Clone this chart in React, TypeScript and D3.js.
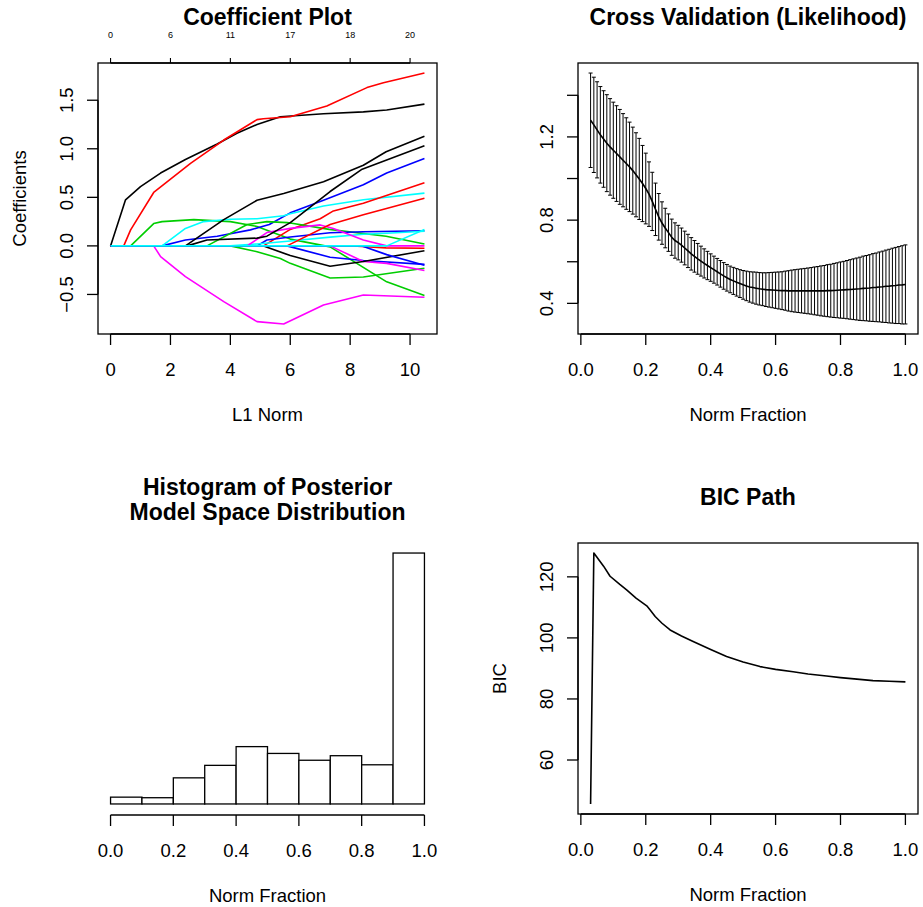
import React from 'react';
import * as d3 from 'd3';

// ---- coefficient paths (lasso), [L1 norm, coefficient] at the knots ----
const coefPaths: [number, number][][] = [
  [[0, 0], [0.5, 0.474], [1.0, 0.61], [1.67, 0.75], [2.5, 0.89], [3.56, 1.05], [4.22, 1.16], [4.89, 1.25], [5.67, 1.33], [7.11, 1.36], [8.44, 1.38], [9.22, 1.4], [10.48, 1.46]],
  [[0, 0], [0.44, 0], [0.67, 0.165], [1.44, 0.55], [2.67, 0.85], [3.78, 1.09], [4.89, 1.3], [5.1, 1.31], [6, 1.33], [7.22, 1.44], [8.56, 1.63], [9.11, 1.68], [10.48, 1.78]],
  [[0, 0], [0.67, 0], [1.44, 0.23], [1.72, 0.25], [2.78, 0.27], [4.0, 0.25], [4.89, 0.2], [6.0, 0.07], [7.33, -0.01], [9.22, -0.37], [10.48, -0.51]],
  [[0, 0], [1.72, 0], [2.5, 0.06], [3.56, 0.1], [4.67, 0.165], [5.3, 0.22], [6, 0.34], [7.11, 0.47], [8.44, 0.63], [9.22, 0.75], [10.48, 0.9]],
  [[0, 0], [1.72, 0], [2.5, 0.18], [3.11, 0.25], [4.0, 0.275], [4.89, 0.28], [5.78, 0.31], [6, 0.33], [7.11, 0.41], [8.44, 0.475], [10.48, 0.543]],
  [[0, 0], [1.44, 0], [1.67, -0.11], [2.5, -0.316], [3.78, -0.574], [4.89, -0.78], [5.78, -0.804], [7.11, -0.608], [8.44, -0.505], [10.48, -0.529]],
  [[0, 0], [2.5, 0], [3.78, 0.27], [4.89, 0.47], [5.78, 0.54], [7.11, 0.66], [8.44, 0.83], [9.2, 0.97], [10.48, 1.13]],
  [[0, 0], [5.11, 0], [6, 0.17], [7.0, 0.28], [7.44, 0.36], [8.44, 0.44], [10.48, 0.65]],
  [[0, 0], [3.22, 0], [4.56, 0.22], [5.22, 0.25], [5.9, 0.24], [7.3, 0.17], [9.2, 0.1], [10.48, 0.02]],
  [[0, 0], [4.89, 0], [5.22, 0.06], [6, 0.092], [7.33, 0.135], [8.44, 0.146], [10.48, 0.155]],
  [[0, 0], [4.0, 0], [4.89, 0.02], [6.0, 0.05], [7.33, 0.09], [8.44, 0.12], [9.22, 0.13], [10.48, 0.15]],
  [[0, 0], [4.56, 0], [5.22, 0.137], [6, 0.18], [7.0, 0.216], [7.44, 0.18], [8.44, 0.06], [9.22, 0], [10.48, 0]],
  [[0, 0], [2.56, 0], [3.22, 0.06], [4.89, 0.08], [5.22, 0.1], [6, 0.24], [7.33, 0.56], [8.4, 0.79], [10.48, 1.03]],
  [[0, 0], [5.89, 0], [7.33, 0.22], [8.44, 0.32], [10.48, 0.49]],
  [[0, 0], [4.0, 0], [4.89, -0.06], [5.67, -0.13], [6.0, -0.18], [7.33, -0.33], [8.44, -0.32], [10.48, -0.23]],
  [[0, 0], [5.89, 0], [7.33, -0.117], [8.44, -0.15], [10.48, -0.19]],
  [[0, 0], [7.33, 0], [8.44, -0.16], [9.22, -0.18], [10.48, -0.254]],
  [[0, 0], [5.11, 0], [6, -0.1], [7.33, -0.21], [8.44, -0.16], [10.48, -0.05]],
  [[0, 0], [8.1, 0], [9.2, -0.02], [10.48, -0.025]],
  [[0, 0], [8.4, 0], [9.22, -0.09], [10.48, -0.2]],
  [[0, 0], [9.22, 0], [10.48, 0.168]],
];
const coefColors = [
  '#000000', '#FF0000', '#00CD00', '#0000FF', '#00FFFF', '#FF00FF',
  '#000000', '#FF0000', '#00CD00', '#0000FF', '#00FFFF', '#FF00FF',
  '#000000', '#FF0000', '#00CD00', '#0000FF', '#FF00FF',
  '#000000', '#FF0000', '#0000FF', '#00FFFF',
];
const coefXTicks = [0, 2, 4, 6, 8, 10];
const coefTopLabels = ['0', '6', '11', '17', '18', '20'];
const coefYTicks = [-0.5, 0, 0.5, 1, 1.5];

// ---- cross validation ----
const cvFraction = [
  0.03, 0.04, 0.05, 0.06, 0.07, 0.08, 0.09, 0.1, 0.11, 0.12, 0.13, 0.14, 0.15, 0.16, 0.17, 0.18, 0.19, 0.2,
  0.21, 0.22, 0.23, 0.24, 0.25, 0.26, 0.27, 0.28, 0.29, 0.3, 0.31, 0.32, 0.33, 0.34, 0.35, 0.36, 0.37, 0.38,
  0.39, 0.4, 0.41, 0.42, 0.43, 0.44, 0.45, 0.46, 0.47, 0.48, 0.49, 0.5, 0.51, 0.52, 0.53, 0.54, 0.55, 0.56,
  0.57, 0.58, 0.59, 0.6, 0.61, 0.62, 0.63, 0.64, 0.65, 0.66, 0.67, 0.68, 0.69, 0.7, 0.71, 0.72, 0.73, 0.74,
  0.75, 0.76, 0.77, 0.78, 0.79, 0.8, 0.81, 0.82, 0.83, 0.84, 0.85, 0.86, 0.87, 0.88, 0.89, 0.9, 0.91, 0.92,
  0.93, 0.94, 0.95, 0.96, 0.97, 0.98, 0.99, 1.0,
];
const cvMean = [
  1.28, 1.258, 1.234, 1.21, 1.19, 1.17, 1.152, 1.136, 1.12, 1.104, 1.088, 1.072, 1.056, 1.038, 1.018, 0.998, 0.976, 0.952,
  0.925, 0.89, 0.852, 0.816, 0.786, 0.762, 0.74, 0.718, 0.702, 0.692, 0.68, 0.666, 0.652, 0.638, 0.626, 0.614, 0.603, 0.592,
  0.582, 0.572, 0.562, 0.552, 0.542, 0.532, 0.523, 0.515, 0.508, 0.501, 0.495, 0.489, 0.484, 0.479, 0.476, 0.473, 0.47, 0.468,
  0.466, 0.465, 0.464, 0.463, 0.462, 0.461, 0.461, 0.46, 0.46, 0.46, 0.46, 0.46, 0.46, 0.46, 0.46, 0.46, 0.46, 0.46,
  0.46, 0.461, 0.461, 0.462, 0.463, 0.464, 0.465, 0.466, 0.467, 0.468, 0.469, 0.47, 0.472, 0.473, 0.474, 0.476, 0.477, 0.479,
  0.48, 0.482, 0.483, 0.485, 0.486, 0.488, 0.489, 0.491,
];
const cvSe = [
  0.227, 0.229, 0.231, 0.232, 0.232, 0.233, 0.232, 0.231, 0.23, 0.228, 0.224, 0.22, 0.215, 0.209, 0.202, 0.195, 0.183, 0.17,
  0.155, 0.14, 0.126, 0.112, 0.102, 0.095, 0.09, 0.087, 0.085, 0.083, 0.082, 0.081, 0.08, 0.078, 0.076, 0.074, 0.072, 0.07,
  0.068, 0.066, 0.065, 0.064, 0.064, 0.064, 0.064, 0.064, 0.065, 0.066, 0.067, 0.069, 0.071, 0.073, 0.075, 0.077, 0.078, 0.079,
  0.081, 0.083, 0.085, 0.087, 0.089, 0.091, 0.094, 0.097, 0.1, 0.102, 0.104, 0.106, 0.108, 0.11, 0.112, 0.115, 0.117, 0.12,
  0.122, 0.125, 0.127, 0.13, 0.132, 0.135, 0.137, 0.14, 0.143, 0.146, 0.149, 0.152, 0.155, 0.157, 0.16, 0.163, 0.165, 0.168,
  0.171, 0.174, 0.177, 0.18, 0.183, 0.185, 0.188, 0.19,
];
const cvYTicks = [0.4, 0.6, 0.8, 1.0, 1.2, 1.4];
const cvYLabels = ['0.4', '', '0.8', '', '1.2', ''];

// ---- histogram of posterior model space ----
const histBreaks = [0, 0.1, 0.2, 0.3, 0.4, 0.5, 0.6, 0.7, 0.8, 0.9, 1.0];
const histCounts = [12, 11, 46, 68, 101, 89, 77, 85, 69, 442];

// ---- BIC path ----
const bicFraction = [0.03, 0.04, 0.07, 0.09, 0.12, 0.141, 0.17, 0.203, 0.213, 0.229, 0.25, 0.275, 0.31, 0.346, 0.4, 0.449, 0.5, 0.552, 0.6, 0.654, 0.7, 0.757, 0.8, 0.859, 0.9, 0.95, 1.0];
const bicValue = [45.6, 127.8, 123.5, 120.2, 117.5, 115.7, 113.0, 110.5, 109.2, 107.0, 104.8, 102.6, 100.6, 98.8, 96.2, 93.9, 92.1, 90.6, 89.7, 88.9, 88.2, 87.5, 87.0, 86.4, 86.0, 85.8, 85.6];
const bicYTicks = [60, 80, 100, 120];

const fracTicks = [0, 0.2, 0.4, 0.6, 0.8, 1.0];

const FONT = '"Liberation Sans", Arial, Helvetica, sans-serif';
const LAB = 18.5;
const TITLE = 23;

// R style 4% axis expansion
function pad(ext: [number, number]): [number, number] {
  const r = ext[1] - ext[0];
  return [ext[0] - 0.04 * r, ext[1] + 0.04 * r];
}

const fmt1 = (v: number) => (v < 0 ? '\u2212' : '') + Math.abs(v).toFixed(1);

function BottomAxis({ scale, ticks, labels, y, title }: any) {
  const r = scale.range();
  const mid = (r[0] + r[1]) / 2;
  return (
    <g>
      <line x1={scale(ticks[0])} x2={scale(ticks[ticks.length - 1])} y1={y} y2={y} stroke="#000" strokeWidth={1.3} />
      {ticks.map((t: number, i: number) => (
        <g key={i}>
          <line x1={scale(t)} x2={scale(t)} y1={y} y2={y + 11} stroke="#000" strokeWidth={1.3} />
          <text x={scale(t)} y={y + 41.5} textAnchor="middle" fontSize={LAB}>{labels[i]}</text>
        </g>
      ))}
      <text x={mid} y={y + 87} textAnchor="middle" fontSize={LAB}>{title}</text>
    </g>
  );
}

function LeftAxis({ scale, ticks, labels, x, title }: any) {
  const r = scale.range();
  const mid = (r[0] + r[1]) / 2;
  return (
    <g>
      <line x1={x} x2={x} y1={scale(ticks[0])} y2={scale(ticks[ticks.length - 1])} stroke="#000" strokeWidth={1.3} />
      {ticks.map((t: number, i: number) => (
        <g key={i}>
          <line x1={x - 11} x2={x} y1={scale(t)} y2={scale(t)} stroke="#000" strokeWidth={1.3} />
          {labels[i] ? (
            <text transform={`translate(${x - 25},${scale(t)}) rotate(-90)`} textAnchor="middle" fontSize={LAB}>{labels[i]}</text>
          ) : null}
        </g>
      ))}
      {title ? (
        <text transform={`translate(${x - 72},${mid}) rotate(-90)`} textAnchor="middle" fontSize={LAB}>{title}</text>
      ) : null}
    </g>
  );
}

function Box({ x0, x1, y0, y1 }: any) {
  return <rect x={x0} y={y0} width={x1 - x0} height={y1 - y0} fill="none" stroke="#000" strokeWidth={1.3} />;
}

export default function App() {
  // grid of plot regions
  const L = { x0: 98, x1: 437 };
  const R = { x0: 578, x1: 918 };
  const T = { y0: 63, y1: 334 };
  const B = { y0: 543, y1: 814 };

  // coefficient plot
  const allPts = coefPaths.flat();
  const cx = d3.scaleLinear().domain(pad([0, d3.max(allPts, (p) => p[0]) as number])).range([L.x0, L.x1]);
  const cy = d3.scaleLinear().domain(pad(d3.extent(allPts, (p) => p[1]) as [number, number])).range([T.y1, T.y0]);
  const coefLine = d3.line<[number, number]>().x((p) => cx(p[0])).y((p) => cy(p[1]));

  // cv plot
  const vx = d3.scaleLinear().domain(pad([d3.min(cvFraction) as number, d3.max(cvFraction) as number])).range([R.x0, R.x1]);
  const lo = cvMean.map((m, i) => m - cvSe[i]);
  const hi = cvMean.map((m, i) => m + cvSe[i]);
  const vy = d3.scaleLinear().domain(pad([d3.min(lo) as number, d3.max(hi) as number])).range([T.y1, T.y0]);
  const cvLine = d3.line<number>().x((_, i) => vx(cvFraction[i])).y((m) => vy(m));

  // histogram
  const hx = d3.scaleLinear().domain(pad([histBreaks[0], histBreaks[histBreaks.length - 1]])).range([L.x0, L.x1]);
  const hy = d3.scaleLinear().domain(pad([0, d3.max(histCounts) as number])).range([B.y1, B.y0]);

  // bic
  const bx = d3.scaleLinear().domain(pad([d3.min(bicFraction) as number, d3.max(bicFraction) as number])).range([R.x0, R.x1]);
  const by = d3.scaleLinear().domain(pad(d3.extent(bicValue) as [number, number])).range([B.y1, B.y0]);
  const bicLine = d3.line<number>().x((_, i) => bx(bicFraction[i])).y((v) => by(v));

  const cap = 2;

  return (
    <svg width={923} height={907} style={{ position: 'absolute', left: 0, top: 0, background: '#fff' }} fontFamily={FONT}>
      <rect width={923} height={907} fill="#fff" />

      {/* ---------- Coefficient Plot ---------- */}
      <text x={(L.x0 + L.x1) / 2} y={25} textAnchor="middle" fontSize={TITLE} fontWeight="bold">Coefficient Plot</text>
      <g>
        {coefPaths.map((pts, i) => (
          <path key={i} d={coefLine(pts) as string} fill="none" stroke={coefColors[i]} strokeWidth={1.6} strokeLinejoin="round" />
        ))}
      </g>
      <Box x0={L.x0} x1={L.x1} y0={T.y0} y1={T.y1} />
      <BottomAxis scale={cx} ticks={coefXTicks} labels={coefXTicks.map(String)} y={T.y1} title="L1 Norm" />
      <LeftAxis scale={cy} ticks={coefYTicks} labels={coefYTicks.map(fmt1)} x={L.x0} title="Coefficients" />
      <g>
        <line x1={cx(coefXTicks[0])} x2={cx(coefXTicks[coefXTicks.length - 1])} y1={T.y0} y2={T.y0} stroke="#000" strokeWidth={1.3} />
        {coefXTicks.map((t, i) => (
          <g key={i}>
            <line x1={cx(t)} x2={cx(t)} y1={T.y0} y2={T.y0 - 5} stroke="#000" strokeWidth={1.1} />
            <text x={cx(t)} y={38} textAnchor="middle" fontSize={9}>{coefTopLabels[i]}</text>
          </g>
        ))}
      </g>

      {/* ---------- Cross Validation ---------- */}
      <text x={(R.x0 + R.x1) / 2} y={25} textAnchor="middle" fontSize={TITLE} fontWeight="bold">Cross Validation (Likelihood)</text>
      <g stroke="#000" strokeWidth={1}>
        {cvFraction.map((f, i) => {
          const x = vx(f);
          return (
            <g key={i}>
              <line x1={x} x2={x} y1={vy(lo[i])} y2={vy(hi[i])} />
              <line x1={x - cap} x2={x + cap} y1={vy(lo[i])} y2={vy(lo[i])} />
              <line x1={x - cap} x2={x + cap} y1={vy(hi[i])} y2={vy(hi[i])} />
            </g>
          );
        })}
      </g>
      <path d={cvLine(cvMean) as string} fill="none" stroke="#000" strokeWidth={1.6} />
      <Box x0={R.x0} x1={R.x1} y0={T.y0} y1={T.y1} />
      <BottomAxis scale={vx} ticks={fracTicks} labels={fracTicks.map(fmt1)} y={T.y1} title="Norm Fraction" />
      <LeftAxis scale={vy} ticks={cvYTicks} labels={cvYLabels} x={R.x0} title="" />

      {/* ---------- Histogram ---------- */}
      <text x={(L.x0 + L.x1) / 2} y={495} textAnchor="middle" fontSize={TITLE} fontWeight="bold">Histogram of Posterior</text>
      <text x={(L.x0 + L.x1) / 2} y={520} textAnchor="middle" fontSize={TITLE} fontWeight="bold">Model Space Distribution</text>
      <g>
        {histCounts.map((c, i) => (
          <rect
            key={i}
            x={hx(histBreaks[i])}
            y={hy(c)}
            width={hx(histBreaks[i + 1]) - hx(histBreaks[i])}
            height={hy(0) - hy(c)}
            fill="#fff"
            stroke="#000"
            strokeWidth={1.3}
          />
        ))}
      </g>
      <BottomAxis scale={hx} ticks={fracTicks} labels={fracTicks.map(fmt1)} y={B.y1 + 1} title="Norm Fraction" />

      {/* ---------- BIC Path ---------- */}
      <text x={(R.x0 + R.x1) / 2} y={505} textAnchor="middle" fontSize={TITLE} fontWeight="bold">BIC Path</text>
      <path d={bicLine(bicValue) as string} fill="none" stroke="#000" strokeWidth={1.6} strokeLinejoin="round" />
      <Box x0={R.x0} x1={R.x1} y0={B.y0} y1={B.y1} />
      <BottomAxis scale={bx} ticks={fracTicks} labels={fracTicks.map(fmt1)} y={B.y1} title="Norm Fraction" />
      <LeftAxis scale={by} ticks={bicYTicks} labels={bicYTicks.map(String)} x={R.x0} title="BIC" />
    </svg>
  );
}
